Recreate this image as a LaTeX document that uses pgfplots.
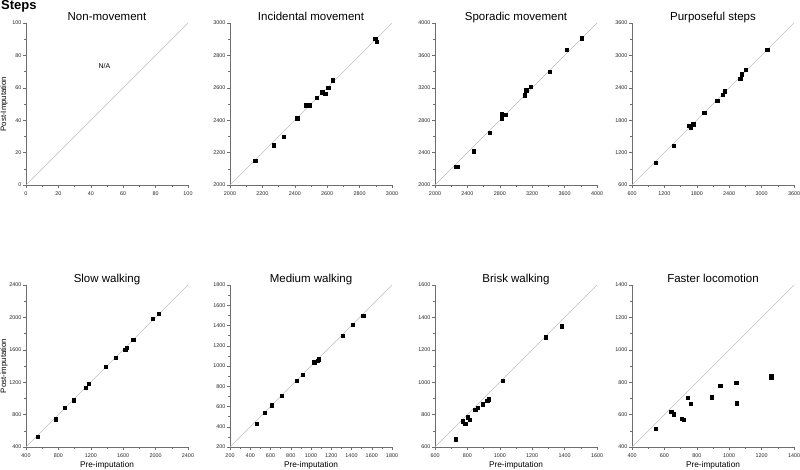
\documentclass[border=0pt]{standalone}
\usepackage{pgfplots}
\pgfplotsset{compat=1.18}
\usepackage{fontspec}
\setmainfont{Liberation Sans}
\definecolor{axgray}{RGB}{110,110,110}
\definecolor{diag}{RGB}{190,190,190}
\pgfplotsset{
  panel/.style={
    scale only axis, width=162pt, height=162pt,
    axis lines=left, axis line style={-, draw=axgray, line width=0.5pt},
    tick align=outside, major tick length=3pt, minor tick length=1.6pt,
    tick style={draw=axgray, line width=0.4pt},
    minor tick num=1, enlargelimits=false,
    ticklabel style={font=\fontsize{5.4}{6.5}\selectfont, text=black!85},
    yticklabel style={inner sep=1.5pt},
    /pgf/number format/assume math mode=true,
    /pgf/number format/1000 sep={},
    title style={font=\fontsize{11.5}{13}\selectfont, at={(0.5,1)}, anchor=base, yshift=-4pt},
    xlabel style={font=\fontsize{8.3}{10}\selectfont, at={(axis description cs:0.5,-0.111)}, anchor=center},
    ylabel style={font=\fontsize{7.8}{10}\selectfont, at={(axis description cs:-0.135,0.5)}, anchor=center, rotate=0},
    clip=false,
  },
  pts/.style={only marks, mark=square*, mark size=1.65pt, black},
  dl/.style={draw=diag, line width=0.6pt, no marks},
}
\begin{document}
\begin{tikzpicture}
\useasboundingbox (0,0) rectangle (800pt,470pt);
\node[anchor=base west, font=\fontsize{13}{15}\selectfont\bfseries, inner sep=0pt] at (1pt,460pt) {Steps};

% Row 1
\begin{axis}[panel, at={(26pt,285pt)}, anchor=south west, title={Non-movement},
  xmin=0, xmax=100, ymin=0, ymax=100, xtick={0,20,...,100}, ytick={0,20,...,100},
  ylabel={Post-Imputation}]
\addplot[dl] coordinates {(0,0) (100,100)};
\node[font=\fontsize{7}{8}\selectfont] at (axis cs:48.4,73.2) {N/A};
\end{axis}

\begin{axis}[panel, at={(230pt,285pt)}, anchor=south west, title={Incidental movement},
  xmin=2000, xmax=3000, ymin=2000, ymax=3000, xtick={2000,2200,...,3000}, ytick={2000,2200,...,3000}]
\addplot[dl] coordinates {(2000,2000) (3000,3000)};
\addplot[pts] coordinates {(2155,2152) (2271,2245) (2331,2299) (2414,2412) (2468,2493) (2493,2493) (2536,2538) (2569,2573) (2588,2565) (2607,2602) (2636,2647) (2896,2903) (2905,2885)};
\end{axis}

\begin{axis}[panel, at={(435pt,285pt)}, anchor=south west, title={Sporadic movement},
  xmin=2000, xmax=4000, ymin=2000, ymax=4000, xtick={2000,2400,...,4000}, ytick={2000,2400,...,4000}]
\addplot[dl] coordinates {(2000,2000) (4000,4000)};
\addplot[pts] coordinates {(2252,2223) (2273,2223) (2474,2416) (2672,2647) (2821,2874) (2821,2816) (2870,2870) (3105,3109) (3126,3171) (3184,3216) (3419,3398) (3629,3670) (3810,3814)};
\end{axis}

\begin{axis}[panel, at={(632pt,285pt)}, anchor=south west, title={Purposeful steps},
  xmin=600, xmax=3600, ymin=600, ymax=3600, xtick={600,1200,...,3600}, ytick={600,1200,...,3600}]
\addplot[dl] coordinates {(600,600) (3600,3600)};
\addplot[pts] coordinates {(1039,1014) (1367,1324) (1652,1695) (1689,1664) (1732,1726) (1936,1936) (2177,2165) (2276,2276) (2320,2338) (2604,2567) (2635,2654) (2709,2740) (3105,3099)};
\end{axis}

% Row 2
\begin{axis}[panel, at={(26pt,23pt)}, anchor=south west, title={Slow walking},
  xmin=400, xmax=2400, ymin=400, ymax=2400, xtick={400,800,...,2400}, ytick={400,800,...,2400},
  ylabel={Post-imputation}, xlabel={Pre-imputation}]
\addplot[dl] coordinates {(400,400) (2400,2400)};
\addplot[pts] coordinates {(544,524) (767,742) (874,887) (986,977) (1134,1130) (1175,1179) (1386,1390) (1509,1505) (1625,1604) (1645,1629) (1724,1724) (1963,1984) (2041,2045)};
\end{axis}

\begin{axis}[panel, at={(230pt,23pt)}, anchor=south west, title={Medium walking},
  xmin=200, xmax=1800, ymin=200, ymax=1800, xtick={200,400,...,1800}, ytick={200,400,...,1800},
  xlabel={Pre-imputation}]
\addplot[dl] coordinates {(200,200) (1800,1800)};
\addplot[pts] coordinates {(462,431) (544,540) (611,612) (713,705) (859,853) (919,913) (1031,1038) (1065,1051) (1075,1068) (1313,1299) (1413,1411) (1515,1497)};
\end{axis}

\begin{axis}[panel, at={(435pt,23pt)}, anchor=south west, title={Brisk walking},
  xmin=600, xmax=1600, ymin=600, ymax=1600, xtick={600,800,...,1600}, ytick={600,800,...,1600},
  xlabel={Pre-imputation}]
\addplot[dl] coordinates {(600,600) (1600,1600)};
\addplot[pts] coordinates {(726,649) (773,759) (786,742) (800,784) (814,767) (849,831) (862,843) (895,864) (922,887) (930,895) (1016,1008) (1285,1278) (1384,1346)};
\end{axis}

\begin{axis}[panel, at={(632pt,23pt)}, anchor=south west, title={Faster locomotion},
  xmin=400, xmax=1400, ymin=400, ymax=1400, xtick={400,600,...,1400}, ytick={400,600,...,1400},
  xlabel={Pre-imputation}]
\addplot[dl] coordinates {(400,400) (1400,1400)};
\addplot[pts] coordinates {(546,515) (641,616) (658,602) (707,573) (718,569) (744,703) (763,666) (893,707) (944,777) (1043,798) (1047,670) (1260,841) (1260,827)};
\end{axis}
\end{tikzpicture}
\end{document}
